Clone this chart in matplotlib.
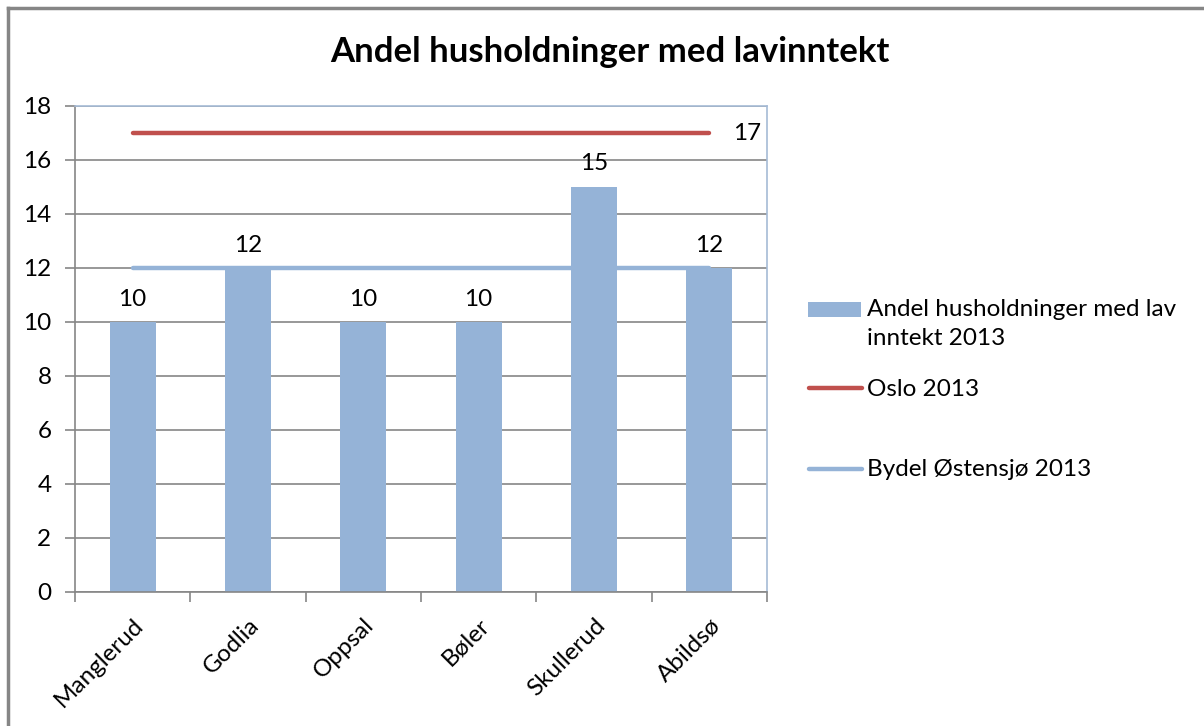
import matplotlib
matplotlib.use("Agg")
import matplotlib.pyplot as plt
from matplotlib.lines import Line2D
from matplotlib.patches import Rectangle
import numpy as np

categories = ["Manglerud", "Godlia", "Oppsal", "Bøler", "Skullerud", "Abildsø"]
andel_values = [10, 12, 10, 10, 15, 12]
oslo_values = [17, 17, 17, 17, 17, 17]
bydel_values = [12, 12, 12, 12, 12, 12]
yticks = [0, 2, 4, 6, 8, 10, 12, 14, 16, 18]
labels = ["Andel husholdninger med lav\ninntekt 2013", "Oslo 2013", "Bydel Østensjø 2013"]
title = "Andel husholdninger med lavinntekt"

plt.rcParams['font.family'] = ['Lato', 'DejaVu Sans']

BAR = "#95B3D7"
RED = "#C0504D"
GRID = "#868686"
FS = 17.5

fig = plt.figure(figsize=(12.04, 7.26), dpi=100)
ax = fig.add_axes([75/1204, 1-592/726, (767-75)/1204, (592-106)/726])

x = np.arange(len(categories))
ax.bar(x, andel_values, width=0.4, color=BAR, zorder=2)
ax.plot(x, oslo_values, color=RED, lw=3.2, solid_capstyle='round', zorder=3)
ax.plot(x, bydel_values, color=BAR, lw=3.2, solid_capstyle='round', zorder=3)

for xi, v in zip(x, andel_values):
    ax.annotate(f"{v}", (xi, v), xytext=(0, 9), textcoords='offset points',
                ha='center', va='bottom', fontsize=FS)
ax.annotate(f"{oslo_values[-1]}", (x[-1], oslo_values[-1]), xytext=(17, 0),
            textcoords='offset points', ha='left', va='center', fontsize=FS)

ax.set_xlim(-0.5, len(categories) - 0.5)
ax.set_ylim(0, 18)
ax.set_yticks(yticks)
ax.set_yticklabels([str(t) for t in yticks], fontsize=FS)
ax.yaxis.grid(True, color=GRID, lw=1.2, zorder=0)
ax.set_axisbelow(True)

ax.set_xticks(x)
ax.set_xticklabels(categories, rotation=45, ha='right', rotation_mode='anchor', fontsize=FS)
ax.set_xticks(np.arange(-0.5, len(categories)), minor=True)
ax.tick_params(axis='x', which='major', length=0, pad=16)
ax.tick_params(axis='x', which='minor', length=7, color=GRID, width=1.2)
ax.tick_params(axis='y', length=7, color=GRID, width=1.2, pad=10)

for side in ['left', 'bottom']:
    ax.spines[side].set_color(GRID)
    ax.spines[side].set_linewidth(1.2)
for side in ['top', 'right']:
    ax.spines[side].set_color("#A6BBD6")
    ax.spines[side].set_linewidth(1.2)

fig.text(610/1204, 1-52/726, title, ha='center', va='center', fontsize=25, fontweight='bold')

# manual legend (Excel style: handle aligned with first text line)
W, H = 1204, 726
def fx(px): return px / W
def fy(py): return 1 - py / H
fig.add_artist(Rectangle((fx(808), fy(317)), fx(861) - fx(808), (317 - 302) / H,
                         facecolor=BAR, edgecolor='none', transform=fig.transFigure))
fig.add_artist(Line2D([fx(809), fx(862)], [fy(388), fy(388)], color=RED, lw=3.2,
                      solid_capstyle='round', transform=fig.transFigure))
fig.add_artist(Line2D([fx(809), fx(862)], [fy(469), fy(469)], color=BAR, lw=3.2,
                      solid_capstyle='round', transform=fig.transFigure))
fig.text(fx(867), fy(299), labels[0], ha='left', va='top', fontsize=FS, linespacing=1.45)
fig.text(fx(867), fy(389), labels[1], ha='left', va='center', fontsize=FS)
fig.text(fx(867), fy(470), labels[2], ha='left', va='center', fontsize=FS)

fig.add_artist(Line2D([8/1204, 1], [1-8/726, 1-8/726], color=GRID, lw=2.5, transform=fig.transFigure))
fig.add_artist(Line2D([8/1204, 8/1204], [0, 1-8/726], color=GRID, lw=2.5, transform=fig.transFigure))

fig.savefig("out.png", dpi=100)
